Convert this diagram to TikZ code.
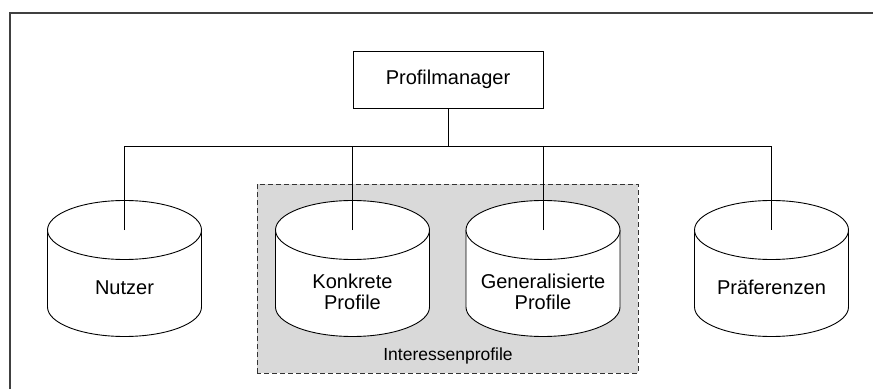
\documentclass[tikz,border=0pt]{standalone}
\usepackage{fontspec}
\setmainfont{Liberation Sans}
\begin{document}
\begin{tikzpicture}[x=1pt,y=1pt,
  line/.style={draw=black,line width=0.9pt},
  frameline/.style={draw=black!75,line width=1.4pt},
  pmbox/.style={draw=black,line width=0.9pt,fill=white,minimum width=190pt,minimum height=57pt,inner sep=0pt,font=\fontsize{20}{22}\selectfont},
  cyltext/.style={align=center,inner sep=0pt,font=\fontsize{20}{21.5}\selectfont},
  grouplbl/.style={inner sep=0pt,font=\fontsize{17.5}{20}\selectfont},
  groupbox/.style={draw=black!80,line width=0.9pt,dash pattern=on 5pt off 3pt,fill=black!15}
]
\useasboundingbox (0,0) rectangle (873,389);
% outer frame (only top and left edges visible)
\draw[frameline] (10,0) -- (10,376) -- (873,376);
% group box
\draw[groupbox] (257,16) rectangle (638,205);
\node[grouplbl,anchor=base] (grp) at (448,29) {Interessenprofile};
% cylinders
\def\rx{77}
\def\ry{29.5}
\foreach \cx in {124.5,352.5,543,771.5}{
  \draw[line,fill=white] (\cx-\rx,159) -- (\cx-\rx,82)
     arc[start angle=180,end angle=360,x radius=\rx,y radius=\ry]
     -- (\cx+\rx,159);
  \draw[line,fill=white] (\cx,159) ellipse[x radius=\rx,y radius=\ry];
}
\coordinate (t1) at (124.5,159);
\coordinate (t2) at (352.5,159);
\coordinate (t3) at (543,159);
\coordinate (t4) at (771.5,159);
\node[cyltext,anchor=base] (nutzer) at (124.5,95) {Nutzer};
\node[cyltext] (konk) at (352.5,97) {Konkrete\\Profile};
\node[cyltext] (gen) at (543,97) {Generalisierte\\Profile};
\node[cyltext,anchor=base] (pref) at (771.5,95) {Präferenzen};
% Profilmanager
\node[pmbox] (pm) at (448,309.5) {Profilmanager};
\coordinate (bus) at (448,243);
% connectors
\draw[line] (pm.south) -- (bus);
\draw[line] (t1) -- (t1 |- bus) -- (t4 |- bus) -- (t4);
\draw[line] (t2) -- (t2 |- bus);
\draw[line] (t3) -- (t3 |- bus);
\end{tikzpicture}
\end{document}
